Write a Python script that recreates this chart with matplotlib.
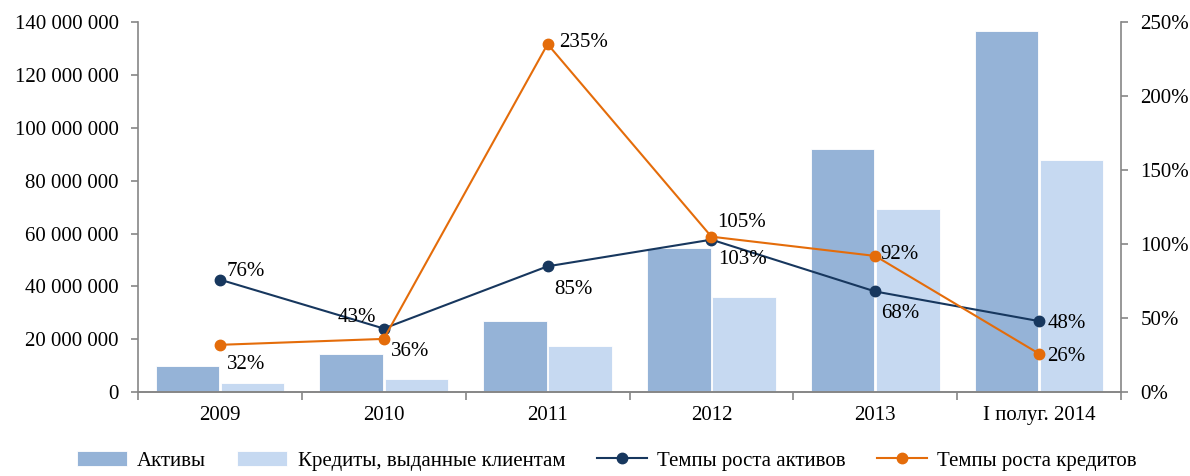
import matplotlib
matplotlib.use("Agg")
import matplotlib.pyplot as plt
import matplotlib.ticker as mticker
import numpy as np

categories = ["2009", "2010", "2011", "2012", "2013", "I полуг. 2014"]
assets = [9_800_000, 14_400_000, 26_900_000, 54_500_000, 91_900_000, 136_600_000]
loans = [3_400_000, 4_900_000, 17_400_000, 35_900_000, 69_200_000, 87_800_000]
assets_growth = [76, 43, 85, 103, 68, 48]
loans_growth = [32, 36, 235, 105, 92, 26]

C_ASSETS = "#95B3D7"
C_LOANS = "#C6D9F1"
C_NAVY = "#17375E"
C_ORANGE = "#E46C0A"
C_SPINE = "#868686"

plt.rcParams.update({
    "font.family": ["Liberation Serif", "DejaVu Serif"],
    "font.size": 15,
})

fig = plt.figure(figsize=(11.9, 4.76), dpi=100)
ax = fig.add_axes([0.116, 0.176, 0.826, 0.778])
ax2 = ax.twinx()

x = np.arange(len(categories))
w = 0.388
ax.bar(x - 0.199, assets, w, color=C_ASSETS, edgecolor="white", linewidth=0.6,
       label="Активы", zorder=2)
ax.bar(x + 0.199, loans, w, color=C_LOANS, edgecolor="white", linewidth=0.6,
       label="Кредиты, выданные клиентам", zorder=2)

ax.set_xlim(-0.5, len(categories) - 0.5)
ax.set_ylim(0, 140_000_000)
ax.yaxis.set_major_locator(mticker.MultipleLocator(20_000_000))
ax.yaxis.set_major_formatter(mticker.FuncFormatter(
    lambda v, _: f"{v:,.0f}".replace(",", " ")))

ax.set_xticks(np.arange(-0.5, len(categories), 1.0))
ax.set_xticklabels([])
ax.set_xticks(x, minor=True)
ax.set_xticklabels(categories, minor=True)
ax.tick_params(axis="x", which="major", length=6, color=C_SPINE, width=1.2)
ax.tick_params(axis="x", which="minor", length=0, pad=10)
ax.tick_params(axis="y", length=5, color=C_SPINE, width=1.2, pad=9)

l1, = ax2.plot(x, assets_growth, color=C_NAVY, lw=1.5, marker="o", ms=7.5,
               label="Темпы роста активов", zorder=3)
l2, = ax2.plot(x, loans_growth, color=C_ORANGE, lw=1.5, marker="o", ms=7.5,
               label="Темпы роста кредитов", zorder=3)
ax2.set_ylim(0, 250)
ax2.yaxis.set_major_locator(mticker.MultipleLocator(50))
ax2.yaxis.set_major_formatter(mticker.FuncFormatter(lambda v, _: f"{v:.0f}%"))
ax2.tick_params(axis="y", length=5, color=C_SPINE, width=1.2, pad=9)

# label offsets in points (dx, dy)
assets_off = [(5, 6), (-33, 8), (5, -17), (5, -14), (4, -16), (6, -2)]
loans_off = [(5, -14), (5, -9), (8, 1), (4, 10), (4, 1), (6, -2)]
for i, v in enumerate(assets_growth):
    ax2.annotate(f"{v}%", (x[i], v), xytext=assets_off[i],
                 textcoords="offset points", va="center", ha="left")
for i, v in enumerate(loans_growth):
    ax2.annotate(f"{v}%", (x[i], v), xytext=loans_off[i],
                 textcoords="offset points", va="center", ha="left")

for a in (ax, ax2):
    a.spines["top"].set_visible(False)
    for s in ("left", "right", "bottom"):
        a.spines[s].set_color(C_SPINE)
        a.spines[s].set_linewidth(1.2)
ax.set_zorder(ax2.get_zorder() - 1)
ax.patch.set_visible(False)
ax2.spines["left"].set_visible(False)
ax.spines["right"].set_visible(False)

handles = ax.get_legend_handles_labels()[0] + [l1, l2]
labels = [h.get_label() for h in handles]
fig.legend(handles, labels, loc="center", bbox_to_anchor=(0.51, 0.032),
           ncol=4, frameon=False, handlelength=2.4, handleheight=0.7,
           columnspacing=1.5, handletextpad=0.5, fontsize=15)

fig.savefig("out.png", dpi=100)
